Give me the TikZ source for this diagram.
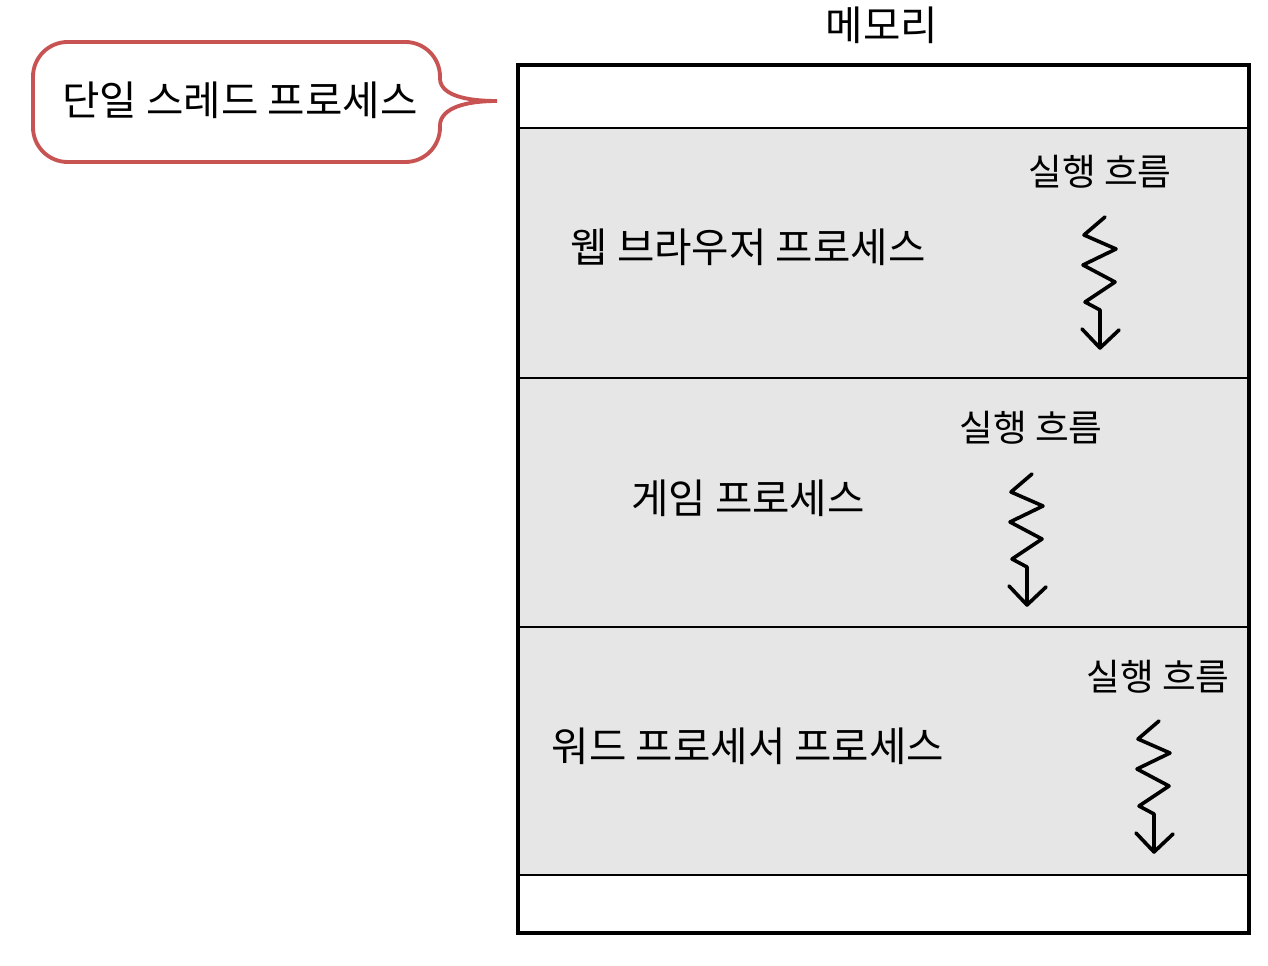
\documentclass[tikz,border=0pt]{standalone}
\usepackage{fontspec}
\setmainfont{Noto Sans CJK KR}
\begin{document}
\begin{tikzpicture}[x=0.75pt,y=-0.75pt,
  lbl/.style={font=\fontsize{30.5}{34}\selectfont, text=black, inner sep=0pt},
  flbl/.style={font=\fontsize{27.5}{32}\selectfont, text=black, inner sep=0pt},
  band/.style={fill=bandgray, draw=black, line width=2pt},
  outerbox/.style={draw=black, line width=3pt},
  callout/.style={draw=calloutred, line width=2.9pt},
  flow/.style={draw=black, line width=2.7pt, line join=round, line cap=round},
  pics/thread/.style={code={
    \draw[flow] (5,-131) -- (-16,-113) -- (16,-99) -- (-17,-83) -- (15,-66) -- (-15,-46) -- (0,-38) -- (0,0);
    \draw[flow] (-18,-19) -- (0,0) -- (19,-18);
  }}]
\definecolor{bandgray}{HTML}{E6E6E6}
\definecolor{calloutred}{HTML}{C85353}
\useasboundingbox (0,0) rectangle (1268,966);

% memory
\node[lbl] (mem) at (882,25) {메모리};
\fill[white] (518,65) rectangle (1249,933);
\draw[band] (518,128) rectangle (1249,378);
\draw[band] (518,378) rectangle (1249,627);
\draw[band] (518,627) rectangle (1249,875);
\draw[outerbox] (518,65) rectangle (1249,933);

% process labels
\node[lbl] (web) at (748,247) {웹 브라우저 프로세스};
\node[lbl] (game) at (748,498) {게임 프로세스};
\node[lbl] (word) at (748,746) {워드 프로세서 프로세스};

% flows
\node[flbl] (f1) at (1100,172) {실행 흐름};
\node[flbl] (f2) at (1031,428) {실행 흐름};
\node[flbl] (f3) at (1158,677) {실행 흐름};
\pic at (1100,348) {thread};
\pic at (1027,605) {thread};
\pic at (1154,852) {thread};

% callout
\node[lbl] (single) at (240,100) {단일 스레드 프로세스};
\draw[callout, rounded corners=26] (440,80) -- (440,42) -- (33,42) -- (33,162) -- (440,162) -- (440,124);
\draw[callout] (440,124) .. controls (442,108) and (465,101) .. (497,101)
  .. controls (465,101) and (442,95) .. (440,80);
\end{tikzpicture}
\end{document}
